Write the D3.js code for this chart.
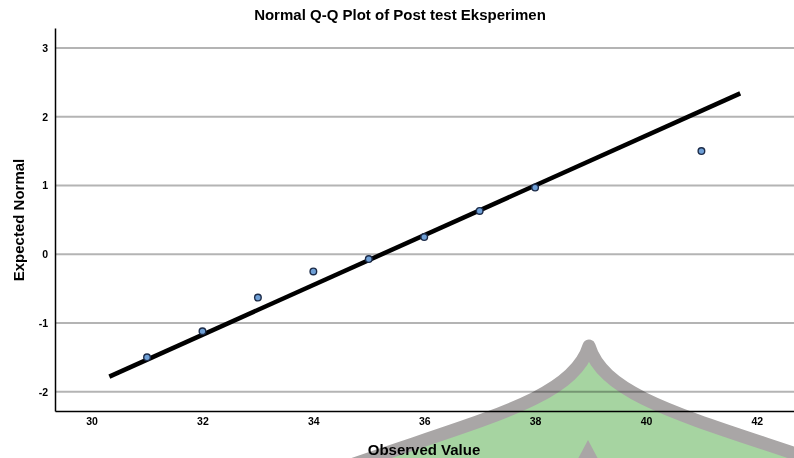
<!DOCTYPE html>
<html>
<head>
<meta charset="utf-8">
<script src="https://cdn.jsdelivr.net/npm/d3@7"></script>
<style>
  body { margin: 0; background: #fff; }
  svg { display: block; font-family: "Liberation Sans", Arial, sans-serif; }
</style>
</head>
<body>
<svg id="drawing_region"></svg>
<script>
// observed values and their expected normal scores
const observed = [31, 32, 33, 34, 35, 36, 37, 38, 41];
const expected = [-1.50, -1.12, -0.63, -0.25, -0.07, 0.25, 0.63, 0.97, 1.50];

// reference line end points
const lineX = [30.32, 41.70];
const lineY = [-1.78, 2.34];

const xTicks = [30, 32, 34, 36, 38, 40, 42];
const yTicks = [-2, -1, 0, 1, 2, 3];

const config = {
    width: 794,
    height: 458,
    margin: {top: 28, right: 0, bottom: 47, left: 55},
    title: "Normal Q-Q Plot of Post test Eksperimen",
    xlabel: "Observed Value",
    ylabel: "Expected Normal"
};

const svg = d3.select('#drawing_region')
    .attr('width', config.width)
    .attr('height', config.height);

const inner_width = config.width - config.margin.left - config.margin.right;
const inner_height = config.height - config.margin.top - config.margin.bottom;

const chart = svg.append('g')
    .attr('transform', `translate(${config.margin.left}, ${config.margin.top})`);

const xscale = d3.scaleLinear()
    .domain([29.34, 42.67])
    .range([0, inner_width]);

const yscale = d3.scaleLinear()
    .domain([-2.28, 3.29])
    .range([inner_height, 0]);

// gridlines
chart.append('g')
    .selectAll('line')
    .data(yTicks)
    .join('line')
    .attr('x1', 0)
    .attr('x2', inner_width)
    .attr('y1', d => yscale(d))
    .attr('y2', d => yscale(d))
    .attr('stroke', '#b4b4b4')
    .attr('stroke-width', 2);

// axes
const xaxis_group = chart.append('g')
    .attr('transform', `translate(0, ${inner_height})`)
    .call(d3.axisBottom(xscale).tickValues(xTicks).tickFormat(d => String(d))
        .tickSize(0).tickSizeOuter(0).tickPadding(7));

const yaxis_group = chart.append('g')
    .call(d3.axisLeft(yscale).tickValues(yTicks).tickFormat(d => String(d))
        .tickSize(0).tickSizeOuter(0).tickPadding(7));

[xaxis_group, yaxis_group].forEach(g => {
    g.select('.domain').attr('stroke', '#000').attr('stroke-width', 1.5);
    g.selectAll('text')
        .style('font-family', '"Liberation Sans", Arial, sans-serif')
        .style('font-size', '10.5px')
        .style('font-weight', 'bold')
        .attr('fill', '#000');
});

// reference line
chart.append('line')
    .attr('x1', xscale(lineX[0]))
    .attr('y1', yscale(lineY[0]))
    .attr('x2', xscale(lineX[1]))
    .attr('y2', yscale(lineY[1]))
    .attr('stroke', '#000')
    .attr('stroke-width', 4.5);

// points
chart.selectAll('circle')
    .data(observed)
    .join('circle')
    .attr('cx', d => xscale(d))
    .attr('cy', (d, i) => yscale(expected[i]))
    .attr('r', 3.3)
    .attr('fill', '#6e9fd6')
    .attr('stroke', '#1c2b48')
    .attr('stroke-width', 1.4);

// title & labels
svg.append('text')
    .attr('x', 400)
    .attr('y', 20)
    .attr('text-anchor', 'middle')
    .style('font-size', '15px')
    .style('font-weight', 'bold')
    .text(config.title);

svg.append('text')
    .attr('x', 424)
    .attr('y', 455)
    .attr('text-anchor', 'middle')
    .style('font-size', '15px')
    .style('font-weight', 'bold')
    .text(config.xlabel);

svg.append('text')
    .attr('transform', 'rotate(-90)')
    .attr('x', -220)
    .attr('y', 24)
    .attr('text-anchor', 'middle')
    .style('font-size', '15px')
    .style('font-weight', 'bold')
    .text(config.ylabel);

// watermark overlay
const wm = svg.append('g').style('mix-blend-mode', 'multiply');
wm.append('path')
    .attr('d', 'M 320,476 C 475,420 572,402 589,346 C 606,402 703,420 860,476 Z')
    .attr('fill', '#a6d4a1')
    .attr('stroke', '#a9a6a6')
    .attr('stroke-width', 13)
    .attr('stroke-linejoin', 'round');
wm.append('path')
    .attr('d', 'M 588,440 L 572,470 L 604,470 Z')
    .attr('fill', '#a9a6a6');
</script>
</body>
</html>
